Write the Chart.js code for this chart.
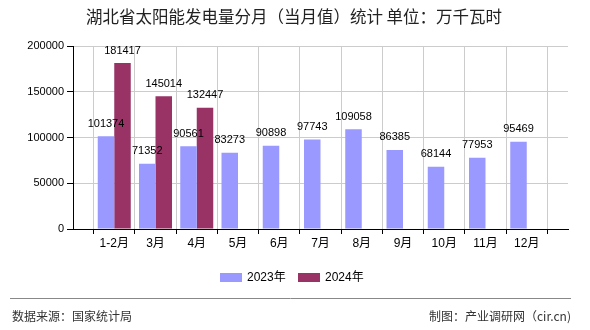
<!DOCTYPE html>
<html>
<head>
<meta charset="utf-8">
<script src="https://cdn.jsdelivr.net/npm/chart.js@4/dist/chart.umd.min.js"></script>
<style>
html,body{margin:0;padding:0;background:#fff;}
#wrap{position:relative;width:590px;height:330px;}
canvas{display:block;}
</style>
</head>
<body>
<div id="wrap"><canvas id="c" width="590" height="330"></canvas></div>
<script>
const categories = ['1-2月','3月','4月','5月','6月','7月','8月','9月','10月','11月','12月'];
const values2023 = [101374, 71352, 90561, 83273, 90898, 97743, 109058, 86385, 68144, 77953, 95469];
const values2024 = [181417, 145014, 132447];
const seriesNames = ['2023年','2024年'];
const yTicks = [0, 50000, 100000, 150000, 200000];
const titleText = '湖北省太阳能发电量分月（当月值）统计 单位：万千瓦时';
const sourceText = '数据来源：国家统计局';
const makerText = '制图：产业调研网（cir.cn)';

const colors = ['#9999FF', '#993366'];
const labels = [''].concat(categories, ['']);
function pad(arr){ const out=[null]; for(let i=0;i<categories.length;i++){ out.push(i<arr.length?arr[i]:null);} out.push(null); return out; }

const numFont = '11px "Liberation Sans", Arial, sans-serif';
const cjkFont = '"Liberation Sans", "Noto Sans CJK SC", sans-serif';

const decor = {
  id:'decor',
  afterDatasetsDraw(chart){
    const ctx = chart.ctx;
    ctx.save();
    ctx.font = numFont;
    ctx.fillStyle = '#000';
    ctx.textAlign = 'center';
    ctx.textBaseline = 'middle';
    chart.data.datasets.forEach((ds, di) => {
      const meta = chart.getDatasetMeta(di);
      meta.data.forEach((bar, i) => {
        const v = ds.data[i];
        if (v == null) return;
        ctx.fillText(String(v), bar.x, bar.y - 12.5);
      });
    });
    ctx.restore();
  },
  afterDraw(chart){
    const ctx = chart.ctx;
    ctx.save();
    ctx.fillStyle = '#222';
    ctx.font = '16.5px "Noto Sans CJK SC", sans-serif';
    ctx.textAlign = 'center';
    ctx.textBaseline = 'middle';
    ctx.fillText(titleText, 294, 17);
    ctx.font = '12px ' + cjkFont;
    ctx.textAlign = 'left';
    const lx = [220, 298];
    seriesNames.forEach((n, i) => {
      ctx.fillStyle = colors[i];
      ctx.fillRect(lx[i], 273, 22, 9);
      ctx.fillStyle = '#000';
      ctx.fillText(n, lx[i] + 27, 278);
    });
    ctx.strokeStyle = '#888';
    ctx.lineWidth = 1;
    ctx.beginPath();
    ctx.moveTo(10, 298.5);
    ctx.lineTo(571, 298.5);
    ctx.stroke();
    ctx.fillStyle = '#333';
    ctx.font = '12px "Noto Sans CJK SC", sans-serif';
    ctx.textAlign = 'left';
    ctx.fillText(sourceText, 12, 316);
    ctx.textAlign = 'right';
    ctx.fillText(makerText, 571, 316);
    ctx.restore();
  }
};

new Chart(document.getElementById('c'), {
  type: 'bar',
  data: {
    labels: labels,
    datasets: [
      { label: seriesNames[0], data: pad(values2023), backgroundColor: colors[0], categoryPercentage: 0.8, barPercentage: 1.0 },
      { label: seriesNames[1], data: pad(values2024), backgroundColor: colors[1], categoryPercentage: 0.8, barPercentage: 1.0 }
    ]
  },
  options: {
    responsive: false,
    animation: false,
    devicePixelRatio: 1,
    layout: { padding: { left: 0, right: 22, top: 46, bottom: 0 } },
    plugins: { legend: { display: false }, title: { display: false }, tooltip: { enabled: false } },
    scales: {
      x: {
        offset: false,
        grid: { color: '#cccccc', tickColor: '#000', tickLength: 5, drawOnChartArea: true },
        border: { color: '#000', width: 1 },
        ticks: { color: '#000', font: { size: 12, family: cjkFont }, padding: 2, autoSkip: false, maxRotation: 0 },
        afterFit(s){ s.height = 101; }
      },
      y: {
        min: 0, max: 200000,
        afterBuildTicks(s){ s.ticks = yTicks.map(v => ({ value: v })); },
        grid: { color: '#cccccc', tickColor: '#000', tickLength: 6 },
        border: { color: '#000', width: 1 },
        ticks: { color: '#000', font: { size: 11, family: '"Liberation Sans", Arial, sans-serif' }, padding: 3, callback: v => String(v) },
        afterFit(s){ s.width = 73; }
      }
    }
  },
  plugins: [decor]
});
</script>
</body>
</html>
